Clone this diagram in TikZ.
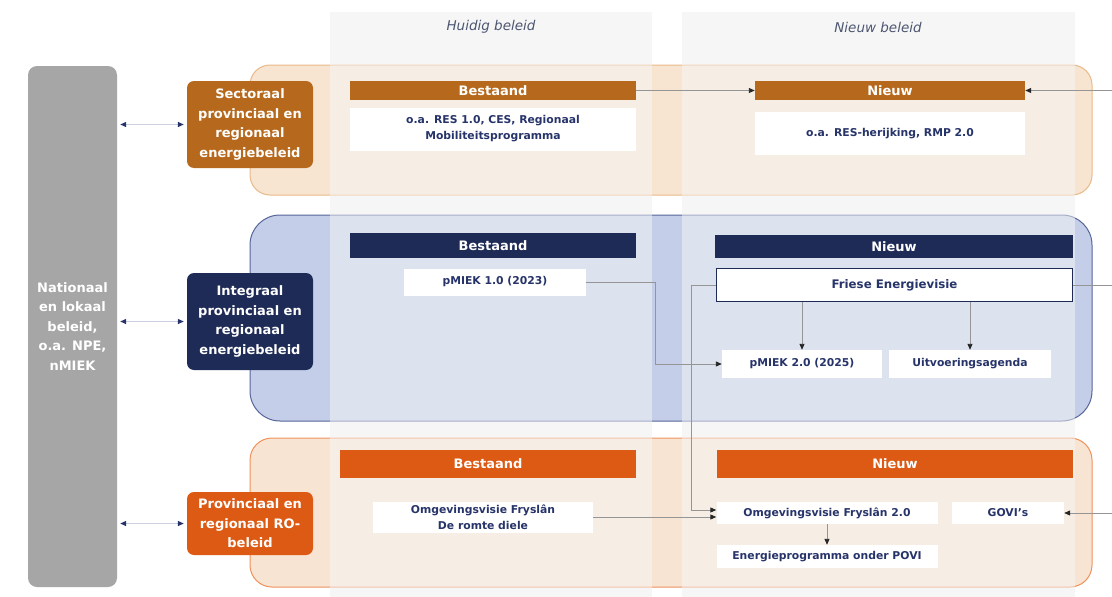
\documentclass[tikz,border=0pt]{standalone}
\usepackage{fontspec}
\setmainfont{DejaVu Sans}
\usetikzlibrary{arrows.meta}
\definecolor{sectbruin}{HTML}{B6691C}
\definecolor{intblauw}{HTML}{1F2B57}
\definecolor{rooranje}{HTML}{DD5A14}
\definecolor{natgrijs}{HTML}{A6A6A6}
\definecolor{tekstblauw}{HTML}{27346A}
\definecolor{lijngrijs}{HTML}{959595}
\definecolor{kopgrijs}{HTML}{4C5670}
\definecolor{kolomgrijs}{HTML}{F6F6F6}
\definecolor{perzik}{HTML}{F7E5D2}
\definecolor{perzikrand}{HTML}{EAB988}
\definecolor{lichtblauw}{HTML}{C5CEE9}
\definecolor{blauwrand}{HTML}{56659A}
\definecolor{roperzik}{HTML}{F8E4D3}
\definecolor{rorand}{HTML}{F0925C}
\definecolor{dubbelgrijs}{HTML}{C9D0E0}
\tikzset{
  lbl/.style={rounded corners=7pt,text=white,align=center,inner sep=0pt,minimum width=126pt,
    font=\bfseries\fontsize{13}{19.5}\selectfont},
  kop/.style={text=white,inner sep=0pt,font=\bfseries\fontsize{13}{15}\selectfont},
  vak/.style={fill=white,text=tekstblauw,align=center,inner sep=0pt,
    font=\bfseries\fontsize{10.8}{16}\selectfont},
  pijl/.style={draw=lijngrijs,line width=0.9pt,-{Triangle[length=6pt,width=5pt,color=black!85]}},
  lijn/.style={draw=lijngrijs,line width=0.9pt},
  dubbel/.style={draw=dubbelgrijs,line width=1.2pt,shorten <=3pt,shorten >=3pt,
    {Triangle[length=6pt,width=5pt,color=tekstblauw]}-{Triangle[length=6pt,width=5pt,color=tekstblauw]}},
  kolomtitel/.style={text=kopgrijs,font=\itshape\fontsize{13.5}{16}\selectfont}
}
\begin{document}
\begin{tikzpicture}[x=1pt,y=-1pt]
\useasboundingbox[fill=white] (0,0) rectangle (1112,597);
\fill[kolomgrijs] (330,12) rectangle (652,597);
\fill[kolomgrijs] (682,12) rectangle (1075,597);
\draw[fill=perzik,draw=perzikrand,line width=1pt,rounded corners=20pt] (250,65) rectangle (1092,195);
\draw[fill=lichtblauw,draw=blauwrand,line width=1pt,rounded corners=30pt] (250,215) rectangle (1092,421);
\draw[fill=roperzik,draw=rorand,line width=1pt,rounded corners=22pt] (250,438) rectangle (1092,587);
\fill[kolomgrijs,fill opacity=0.5] (330,12) rectangle (652,597);
\fill[kolomgrijs,fill opacity=0.5] (682,12) rectangle (1075,597);
\node[kolomtitel] (huidig) at (491,27) {Huidig beleid};
\node[kolomtitel] (nieuw) at (878,27) {Nieuw beleid};

\node[fill=natgrijs,rounded corners=9pt,minimum width=89pt,minimum height=521pt,text=white,align=center,
  inner sep=0pt,font=\bfseries\fontsize{13}{19.5}\selectfont] (nat) at (72.5,326.5)
  {Nationaal\\en lokaal\\beleid,\\o.a. NPE,\\nMIEK};

\node[lbl,fill=sectbruin,minimum height=87pt] (sect) at (250,124.5)
  {Sectoraal\\provinciaal en\\regionaal\\energiebeleid};
\node[kop,fill=sectbruin,minimum width=286pt,minimum height=19pt] (best1kop) at (493,90.5) {Bestaand};
\node[vak,minimum width=286pt,minimum height=43pt] (best1) at (493,129)
  {o.a. RES 1.0, CES, Regionaal\\Mobiliteitsprogramma};
\node[kop,fill=sectbruin,minimum width=270pt,minimum height=19pt] (nieuw1kop) at (890,90.5) {Nieuw};
\node[vak,minimum width=270pt,minimum height=43pt] (nieuw1) at (890,133.5) {o.a. RES-herijking, RMP 2.0};
\coordinate (rechts1) at (1112,90.5);

\node[lbl,fill=intblauw,minimum height=97pt] (integ) at (250,321.5)
  {Integraal\\provinciaal en\\regionaal\\energiebeleid};
\node[kop,fill=intblauw,minimum width=286pt,minimum height=25pt] (best2kop) at (493,245.5) {Bestaand};
\node[vak,minimum width=182pt,minimum height=27pt] (pm1) at (495,282) {pMIEK 1.0 (2023)};
\node[kop,fill=intblauw,minimum width=358pt,minimum height=23pt] (nieuw2kop) at (894,246.5) {Nieuw};
\node[vak,draw=intblauw,line width=1.6pt,minimum width=356pt,minimum height=33pt,
  font=\bfseries\fontsize{11.8}{14}\selectfont] (fev) at (894.5,285) {Friese Energievisie};
\node[vak,minimum width=160pt,minimum height=28pt] (pm2) at (802,364) {pMIEK 2.0 (2025)};
\node[vak,minimum width=162pt,minimum height=28pt] (uitv) at (970,364) {Uitvoeringsagenda};
\coordinate (rechts2) at (1112,285);

\node[lbl,fill=rooranje,minimum height=63pt] (ro) at (250,523.5)
  {Provinciaal en\\regionaal RO-\\beleid};
\node[kop,fill=rooranje,minimum width=296pt,minimum height=28pt] (best3kop) at (488,464) {Bestaand};
\node[vak,minimum width=220pt,minimum height=31pt] (ofr) at (483,517)
  {Omgevingsvisie Fryslân\\De romte diele};
\node[kop,fill=rooranje,minimum width=356pt,minimum height=28pt] (nieuw3kop) at (895,464) {Nieuw};
\node[vak,minimum width=221pt,minimum height=22pt] (ov2) at (827,513) {Omgevingsvisie Fryslân 2.0};
\node[vak,minimum width=112pt,minimum height=22pt] (govi) at (1008,513) {GOVI's};
\node[vak,minimum width=221pt,minimum height=23pt] (epov) at (827,556.5) {Energieprogramma onder POVI};
\coordinate (rechts3) at (1112,513);

\draw[dubbel] (nat.east |- sect.west) -- (sect.west);
\draw[dubbel] (nat.east |- integ.west) -- (integ.west);
\draw[dubbel] (nat.east |- ro.west) -- (ro.west);

\draw[pijl] (best1kop.east) -- (nieuw1kop.west);
\draw[pijl] (rechts1) -- (nieuw1kop.east);
\draw[pijl] (pm1.east) -- ++(69,0) |- (pm2.west);
\draw[pijl] (pm2.north |- fev.south) -- (pm2.north);
\draw[pijl] (uitv.north |- fev.south) -- (uitv.north);
\draw[lijn] (fev.east) -- (rechts2);
\draw[pijl] (fev.west) -- ++(-24,0) |- ([yshift=3pt]ov2.west);
\draw[pijl] (ofr.east) -- (ofr.east -| ov2.west);
\draw[pijl] (ov2.south) -- (epov.north);
\draw[pijl] (rechts3) -- (govi.east);
\end{tikzpicture}
\end{document}
